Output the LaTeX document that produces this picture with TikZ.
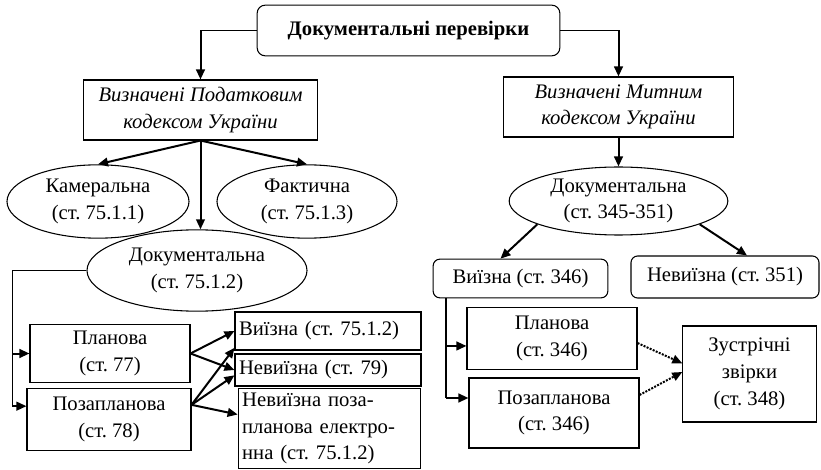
\documentclass[tikz,border=0pt]{standalone}
\usepackage{fontspec}
\setmainfont{Liberation Serif}
\usetikzlibrary{positioning,shapes.geometric,arrows.meta}
\tikzset{
  box/.style={rectangle,draw=black,line width=0.8pt,align=center,inner sep=2pt},
  rbox/.style={box,rounded corners=5pt},
  lbox/.style={rectangle,draw=black,line width=0.8pt,align=left,inner xsep=3pt,inner ysep=1pt},
  oval/.style={ellipse,draw=black,line width=0.8pt,align=center,inner sep=0pt},
  line/.style={draw,line width=1.5pt,-{Triangle[length=7.5pt,width=6.5pt]}},
  thinline/.style={draw,line width=0.8pt},
  dline/.style={line,densely dotted}
}
\begin{document}
\frenchspacing
\fontsize{15.5}{20}\selectfont
\begin{tikzpicture}[x=0.75pt,y=-0.75pt]
    \useasboundingbox (0,0) rectangle (821,470);

    \node[rbox,rounded corners=6pt,font=\bfseries,minimum width=227pt,minimum height=38pt] (top) at (408.5,30.5) {Документальні перевірки};

    \node[box,font=\itshape,minimum width=175pt,minimum height=45pt] (pod) at (200.5,110) {Визначені Податковим\\ кодексом України};
    \node[box,font=\itshape,minimum width=173pt,minimum height=45pt] (mit) at (618.5,107) {Визначені Митним\\ кодексом України};

    \node[oval,minimum width=136.5pt,minimum height=55pt] (kam) at (98,201.5) {Камеральна\\ (ст. 75.1.1)};
    \node[oval,minimum width=135pt,minimum height=55pt] (fakt) at (307,201.5) {Фактична\\ (ст. 75.1.3)};
    \node[oval,minimum width=165pt,minimum height=61pt] (dok1) at (197,270.5) {Документальна\\ (ст. 75.1.2)};

    \node[box,minimum width=120pt,minimum height=44pt] (plan1) at (110,353.5) {Планова\\ (ст. 77)};
    \node[box,minimum width=123pt,minimum height=46pt] (poza1) at (109,419.5) {Позапланова\\ (ст. 78)};

    \node[lbox,text width=133.5pt,minimum height=28.5pt] (vyiz1) at (328,331) {Виїзна (ст. 75.1.2)};
    \node[lbox,text width=133.5pt,minimum height=24pt] (nevyiz1) at (328,370) {Невиїзна (ст. 79)};
    \node[lbox,text width=131pt,minimum height=60pt] (nevel) at (329.5,428.5) {Невиїзна поза-\\ планова електро-\\ нна (ст. 75.1.2)};

    \node[oval,minimum width=164pt,minimum height=51pt] (dok2) at (618.5,201) {Документальна\\ (ст. 345-351)};
    \node[rbox,minimum width=131pt,minimum height=29pt] (vyiz2) at (520.5,278.5) {Виїзна (ст. 346)};
    \node[rbox,minimum width=141pt,minimum height=31.5pt] (nevyiz2) at (725,277) {Невиїзна (ст. 351)};

    \node[box,minimum width=127.5pt,minimum height=46pt] (plan2) at (552,338.5) {Планова\\ (ст. 346)};
    \node[box,minimum width=127.5pt,minimum height=52.5pt] (poza2) at (554,413) {Позапланова\\ (ст. 346)};
    \node[box,minimum width=100pt,minimum height=72pt] (zustr) at (749.5,374) {Зустрічні\\ звірки\\ (ст. 348)};

    % helper points for the buses
    \coordinate[left=55.5pt of dok1.west] (lbus);
    \coordinate (pin) at ([yshift=10pt]poza1.west);
    \coordinate (pout) at ([yshift=11pt]poza1.east);
    \coordinate[right=9.75pt of vyiz2.south west] (rbus);
    \coordinate (pin2) at ([yshift=-5.6pt]plan2.west);
    \coordinate (qin) at ([yshift=11.25pt]poza2.west);

    \draw[thinline] (top.west) -- (top.west -| pod.north);
    \draw[thinline] (top.east) -- (top.east -| mit.north);
    \draw[thinline] (dok1.west) -- (lbus) -- (lbus |- pin);
    \draw[line width=1.5pt] (rbus) -- (rbus |- qin);

    \begin{scope}[every path/.style=line]
      \path (top.west -| pod.north) -- (pod.north);
      \path (top.east -| mit.north) -- (mit.north);

      \path (pod.south) -- (kam.north);
      \path (pod.south) -- (fakt.north);
      \path (pod.south) -- (pod.south |- dok1.north);
      \path (mit.south) -- (dok2.north);

      \path (dok2.196) -- ([xshift=-15pt]vyiz2.north);
      \path (dok2.344) -- ([xshift=16.5pt]nevyiz2.north);

      \path (lbus |- plan1.west) -- (plan1.west);
      \path (lbus |- pin) -- (pin);
      \path (plan1.east) -- (vyiz1.west);
      \path (plan1.east) -- (nevyiz1.west);
      \path (pout) -- ([yshift=2pt]vyiz1.south west);
      \path (pout) -- ([yshift=-4pt]nevyiz1.west);
      \path (pout) -- ([yshift=10.5pt]nevel.west);

      \path (rbus |- pin2) -- (pin2);
      \path (rbus |- qin) -- (qin);
      \path[dline] ([yshift=-3.4pt]plan2.east) -- ([yshift=8pt]zustr.west);
      \path[dline] ([yshift=13.5pt]poza2.east) -- ([yshift=1.5pt]zustr.west);
    \end{scope}
\end{tikzpicture}
\end{document}
